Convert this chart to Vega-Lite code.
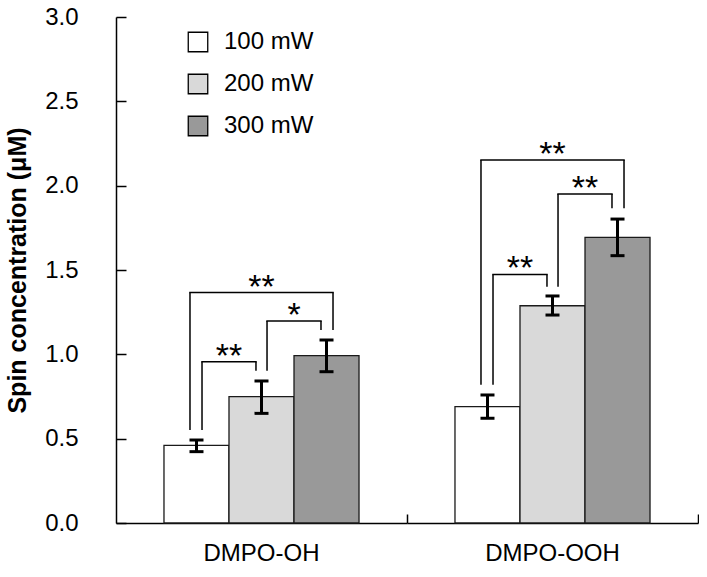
{
  "$schema": "https://vega.github.io/schema/vega-lite/v6.json",
  "padding": {"left": 5, "top": 5, "right": 0, "bottom": 0},
  "background": "white",
  "config": {
    "view": {"stroke": null},
    "font": "Liberation Sans",
    "axis": {
      "domainColor": "black",
      "domainWidth": 1.5,
      "tickColor": "black",
      "tickWidth": 1.5,
      "labelColor": "black",
      "labelFontSize": 24,
      "grid": false
    }
  },
  "data": {
    "values": [
      {"compound": "DMPO-OH", "power": "100 mW", "value": 0.46, "lo": 0.423, "hi": 0.492},
      {"compound": "DMPO-OH", "power": "200 mW", "value": 0.749, "lo": 0.65, "hi": 0.842},
      {"compound": "DMPO-OH", "power": "300 mW", "value": 0.992, "lo": 0.897, "hi": 1.085},
      {"compound": "DMPO-OOH", "power": "100 mW", "value": 0.69, "lo": 0.621, "hi": 0.759},
      {"compound": "DMPO-OOH", "power": "200 mW", "value": 1.288, "lo": 1.233, "hi": 1.346},
      {"compound": "DMPO-OOH", "power": "300 mW", "value": 1.694, "lo": 1.585, "hi": 1.802},
      {"compound": "DMPO-OH", "kind": "inner", "from": "100 mW", "to": "200 mW", "mid": "100 mW", "top": 0.956, "yFrom": 0.551, "yTo": 0.903, "label": "**"},
      {"compound": "DMPO-OH", "kind": "inner", "from": "200 mW", "to": "300 mW", "mid": "200 mW", "top": 1.198, "yFrom": 0.903, "yTo": 1.144, "label": "*"},
      {"compound": "DMPO-OH", "kind": "outer", "from": "100 mW", "to": "300 mW", "mid": "200 mW", "top": 1.366, "yFrom": 0.551, "yTo": 1.144, "label": "**"},
      {"compound": "DMPO-OOH", "kind": "inner", "from": "100 mW", "to": "200 mW", "mid": "100 mW", "top": 1.474, "yFrom": 0.82, "yTo": 1.401, "label": "**"},
      {"compound": "DMPO-OOH", "kind": "inner", "from": "200 mW", "to": "300 mW", "mid": "200 mW", "top": 1.951, "yFrom": 1.401, "yTo": 1.866, "label": "**"},
      {"compound": "DMPO-OOH", "kind": "outer", "from": "100 mW", "to": "300 mW", "mid": "200 mW", "top": 2.152, "yFrom": 0.82, "yTo": 1.866, "label": "**"}
    ]
  },
  "facet": {
    "column": {
      "field": "compound",
      "type": "nominal",
      "sort": ["DMPO-OH", "DMPO-OOH"],
      "header": {"title": null, "labelOrient": "bottom", "labelFontSize": 24, "labelColor": "black", "labelPadding": 18, "labelFont": "Liberation Sans"}
    }
  },
  "spacing": 0,
  "bounds": "flush",
  "spec": {
    "width": 291,
    "height": 506,
    "encoding": {
      "x": {
        "field": "power",
        "type": "nominal",
        "scale": {"domain": ["100 mW", "200 mW", "300 mW"], "paddingInner": 0, "paddingOuter": 0.738},
        "axis": {"title": null, "labels": false, "values": ["300 mW"], "bandPosition": 1, "tickOffset": 48, "tickSize": -9}
      }
    },
    "layer": [
      {
        "transform": [{"filter": "isValid(datum.value)"}],
        "mark": {"type": "bar", "stroke": "#1a1a1a", "strokeWidth": 1.3},
        "encoding": {
          "y": {
            "field": "value",
            "type": "quantitative",
            "scale": {"domain": [0, 3], "nice": false},
            "axis": {"title": "Spin concentration (μM)", "values": [0, 0.5, 1, 1.5, 2, 2.5, 3], "format": ".1f", "tickSize": -10, "labelPadding": 48, "titleFontSize": 25, "titleFontWeight": "bold", "titleColor": "black", "titlePadding": 14}
          },
          "fill": {
            "field": "power",
            "type": "nominal",
            "scale": {"domain": ["100 mW", "200 mW", "300 mW"], "range": ["#ffffff", "#d9d9d9", "#999999"]},
            "legend": {"title": null, "orient": "none", "legendX": 70, "legendY": 13, "symbolType": "square", "symbolSize": 380, "symbolStrokeColor": "black", "symbolStrokeWidth": 1.3, "symbolOpacity": 1, "labelFontSize": 24, "labelColor": "black", "labelOffset": 14, "rowPadding": 16, "padding": 0}
          }
        }
      },
      {
        "transform": [{"filter": "isValid(datum.value)"}],
        "mark": {"type": "rule", "color": "black", "strokeWidth": 3},
        "encoding": {
          "y": {"field": "lo", "type": "quantitative"},
          "y2": {"field": "hi"}
        }
      },
      {
        "transform": [{"filter": "isValid(datum.value)"}],
        "mark": {"type": "tick", "color": "black", "size": 14, "thickness": 3, "opacity": 1},
        "encoding": {"y": {"field": "lo", "type": "quantitative"}}
      },
      {
        "transform": [{"filter": "isValid(datum.value)"}],
        "mark": {"type": "tick", "color": "black", "size": 14, "thickness": 3, "opacity": 1},
        "encoding": {"y": {"field": "hi", "type": "quantitative"}}
      },
      {
        "transform": [{"filter": "datum.kind == 'inner'"}],
        "mark": {"type": "rule", "color": "black", "strokeWidth": 1.5},
        "encoding": {
          "x": {"field": "from", "type": "nominal", "bandPosition": 0.585},
          "y": {"field": "yFrom", "type": "quantitative"},
          "y2": {"field": "top"}
        }
      },
      {
        "transform": [{"filter": "datum.kind == 'inner'"}],
        "mark": {"type": "rule", "color": "black", "strokeWidth": 1.5},
        "encoding": {
          "x": {"field": "to", "type": "nominal", "bandPosition": 0.415},
          "y": {"field": "yTo", "type": "quantitative"},
          "y2": {"field": "top"}
        }
      },
      {
        "transform": [{"filter": "datum.kind == 'outer'"}],
        "mark": {"type": "rule", "color": "black", "strokeWidth": 1.5},
        "encoding": {
          "x": {"field": "from", "type": "nominal", "bandPosition": 0.4},
          "y": {"field": "yFrom", "type": "quantitative"},
          "y2": {"field": "top"}
        }
      },
      {
        "transform": [{"filter": "datum.kind == 'outer'"}],
        "mark": {"type": "rule", "color": "black", "strokeWidth": 1.5},
        "encoding": {
          "x": {"field": "to", "type": "nominal", "bandPosition": 0.6},
          "y": {"field": "yTo", "type": "quantitative"},
          "y2": {"field": "top"}
        }
      },
      {
        "transform": [{"filter": "datum.kind == 'inner'"}],
        "mark": {"type": "rule", "color": "black", "strokeWidth": 1.5, "strokeCap": "square"},
        "encoding": {
          "x": {"field": "from", "type": "nominal", "bandPosition": 0.585},
          "x2": {"field": "to", "bandPosition": 0.415},
          "y": {"field": "top", "type": "quantitative"}
        }
      },
      {
        "transform": [{"filter": "datum.kind == 'outer'"}],
        "mark": {"type": "rule", "color": "black", "strokeWidth": 1.5, "strokeCap": "square"},
        "encoding": {
          "x": {"field": "from", "type": "nominal", "bandPosition": 0.4},
          "x2": {"field": "to", "bandPosition": 0.6},
          "y": {"field": "top", "type": "quantitative"}
        }
      },
      {
        "transform": [{"filter": "datum.kind == 'inner'"}],
        "mark": {"type": "text", "color": "black", "fontSize": 34, "baseline": "alphabetic", "dy": 5},
        "encoding": {
          "x": {"field": "from", "type": "nominal", "bandPosition": 1},
          "y": {"field": "top", "type": "quantitative"},
          "text": {"field": "label"}
        }
      },
      {
        "transform": [{"filter": "datum.kind == 'outer'"}],
        "mark": {"type": "text", "color": "black", "fontSize": 34, "baseline": "alphabetic", "dy": 5},
        "encoding": {
          "x": {"field": "mid", "type": "nominal", "bandPosition": 0.5},
          "y": {"field": "top", "type": "quantitative"},
          "text": {"field": "label"}
        }
      }
    ]
  }
}
